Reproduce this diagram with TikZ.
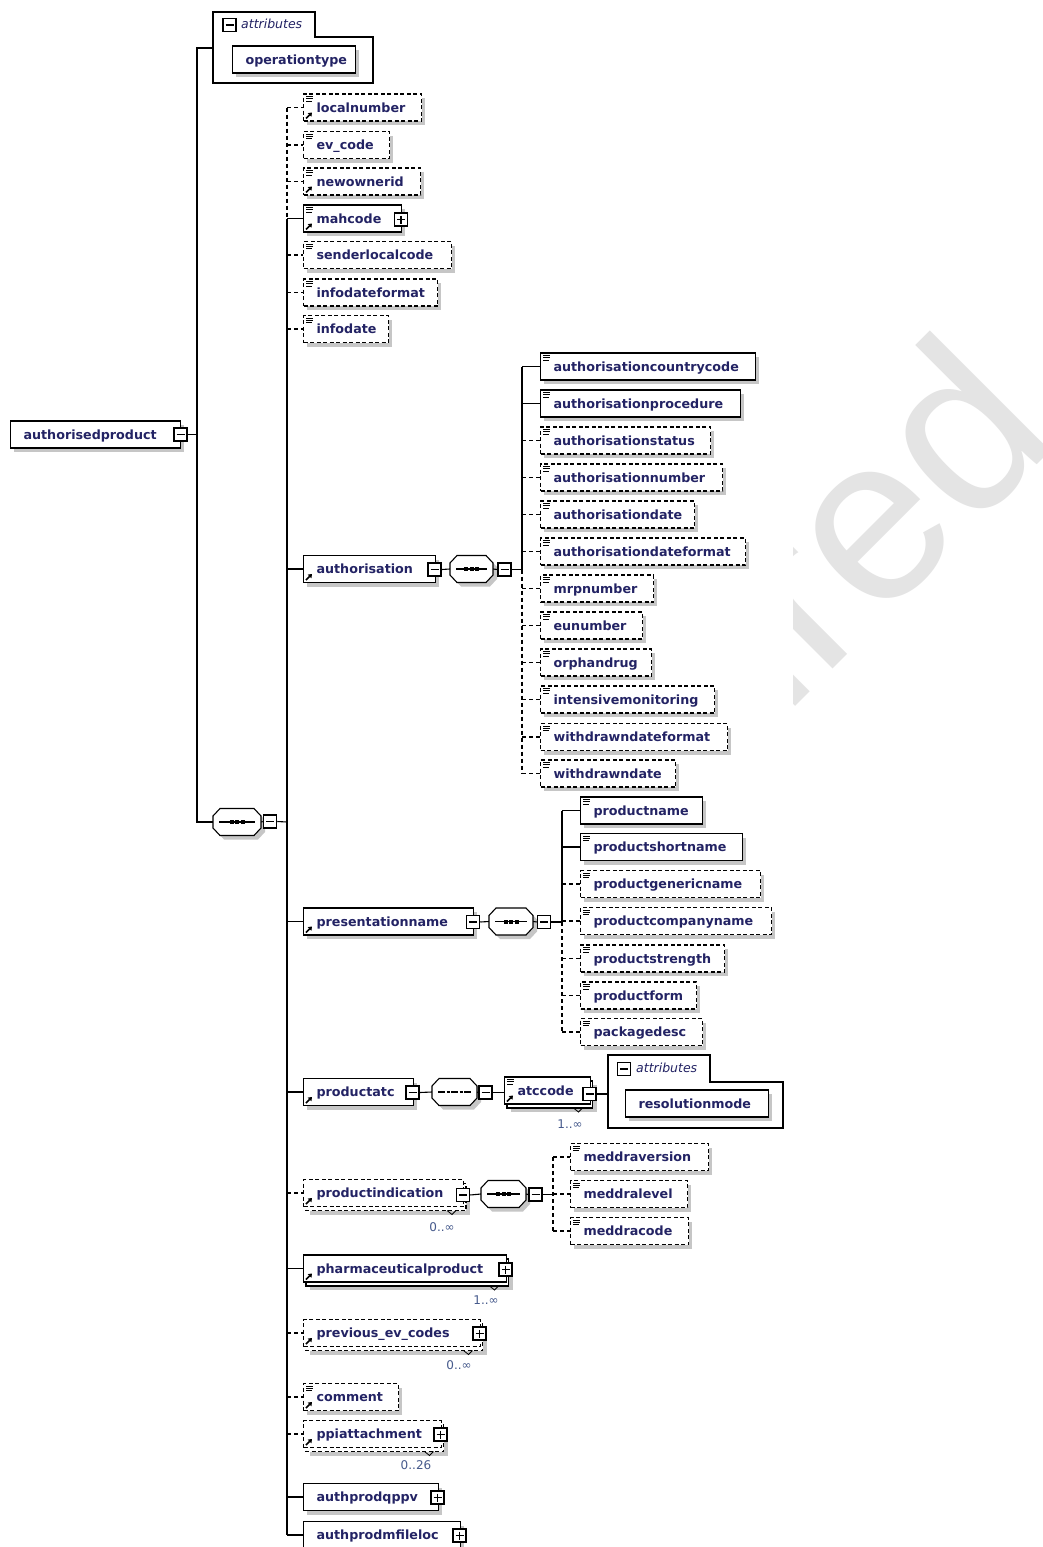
\documentclass[tikz,border=0pt]{standalone}
\usepackage{fontspec}
\setmainfont{DejaVu Sans}
\newfontfamily\wmfont{Liberation Sans}
\usetikzlibrary{arrows.meta}
\definecolor{txt}{RGB}{35,35,100}
\definecolor{shad}{RGB}{198,198,198}
\definecolor{occc}{RGB}{70,90,140}
\definecolor{wm}{RGB}{228,228,228}
\tikzset{
  elembox/.style={draw=black, line width=1.1pt, fill=white, minimum height=27pt,
    inner xsep=13pt, inner ysep=0pt, text height=11pt, text depth=2pt, align=left,
    font=\fontsize{12.7}{14}\selectfont\bfseries, text=txt, anchor=west},
  opt/.style={dash pattern=on 4pt off 2.5pt},
  req/.style={solid},
  conn/.style={line width=1.1pt, draw=black},
  dconn/.style={line width=1.1pt, draw=black, dash pattern=on 4pt off 3pt},
  btnbox/.style={draw=black, line width=1.5pt, fill=white, minimum size=13pt, inner sep=0pt},
  btnline/.style={line width=1.2pt},
  panel/.style={draw=black, line width=1.1pt},
  attrlbl/.style={font=\fontsize{12.5}{14}\selectfont\itshape, text=txt, inner sep=0pt},
  occlbl/.style={font=\fontsize{12}{14}\selectfont, text=occc, inner sep=0pt},
  seqnode/.style={minimum height=27pt, inner sep=0pt, draw=none},
}
% shadow of an element box: left, cy, right
\newcommand\shadowbox[3]{\fill[shad] ({#1+4},{#2-9.5}) rectangle ({#3+4},{#2+17.5});}
% element node: style, name, left, cy, right, text
\newcommand\elnode[6]{%
  \pgfmathsetmacro\elW{#5-#3}%
  \pgfmathsetmacro\elT{#5-#3-26}%
  \node[elembox,#1,minimum width=\elW pt,text width=\elT pt] (#2) at (#3,#4) {#6};}
\newcommand\elbox[6]{\shadowbox{#3}{#4}{#5}\elnode{#1}{#2}{#3}{#4}{#5}{#6}}
% stacked (multiple occurrence) element
\newcommand\elboxm[6]{%
  \fill[shad] ({#3+7},{#4-5.5}) rectangle ({#5+7},{#4+21.5});
  \draw[line width=1.1pt,#1,fill=white] ({#3+3},{#4-9.5}) rectangle ({#5+3},{#4+17.5});
  \draw[line width=0.8pt] ({#5-16},{#4+17.5}) -- ({#5-11},{#4+21.5}) -- ({#5-7},{#4+17.5});
  \elnode{#1}{#2}{#3}{#4}{#5}{#6}}
% icons: left, cy
\newcommand\eqicon[2]{\draw[line width=1pt] ({#1+3},{#2-11}) -- ({#1+9.5},{#2-11})
  ({#1+3},{#2-8.7}) -- ({#1+9.5},{#2-8.7}) ({#1+3},{#2-6.4}) -- ({#1+8.5},{#2-6.4});}
\newcommand\reficon[2]{\draw[line width=1.7pt,-{Triangle[length=3.5pt,width=5pt]}]
  ({#1+3},{#2+11}) -- ({#1+9},{#2+5});}
% buttons: name, x, cy
\newcommand\mbtn[3]{\node[btnbox] (#1) at (#2,#3) {};
  \draw[btnline] ({#2-4},#3) -- ({#2+4},#3);}
\newcommand\pbtn[3]{\node[btnbox] (#1) at (#2,#3) {};
  \draw[btnline] ({#2-4},#3) -- ({#2+4},#3) (#2,{#3-4}) -- (#2,{#3+4});}
% compositor outline: left, cy, right
\newcommand\octo[3]{%
  \fill[shad] ({#1+4},{#2-2}) -- ({#1+11},{#2-9.5}) -- ({#3-3},{#2-9.5}) -- ({#3+4},{#2-2})
    -- ({#3+4},{#2+10}) -- ({#3-3},{#2+17.5}) -- ({#1+11},{#2+17.5}) -- ({#1+4},{#2+10}) -- cycle;
  \draw[line width=1.1pt, fill=white] (#1,{#2-6}) -- ({#1+7},{#2-13.5}) -- ({#3-7},{#2-13.5})
    -- (#3,{#2-6}) -- (#3,{#2+6}) -- ({#3-7},{#2+13.5}) -- ({#1+7},{#2+13.5}) -- (#1,{#2+6}) -- cycle;}
% sequence compositor: name, left, cy, right
\newcommand\seqbox[4]{%
  \octo{#2}{#3}{#4}%
  \pgfmathsetmacro\sqW{#4-#2}\pgfmathsetmacro\sqC{(#2+#4)/2}%
  \node[seqnode, minimum width=\sqW pt] (#1) at (\sqC,#3) {};
  \draw[line width=1.1pt] ({#2+6},#3) -- ({#4-6},#3);
  \fill ({\sqC-7.5},{#3-2}) rectangle ++(4,4);
  \fill ({\sqC-2},{#3-2}) rectangle ++(4,4);
  \fill ({\sqC+3.5},{#3-2}) rectangle ++(4,4);}
% compositor with broken line
\newcommand\seqboxb[4]{%
  \octo{#2}{#3}{#4}%
  \pgfmathsetmacro\sqW{#4-#2}\pgfmathsetmacro\sqC{(#2+#4)/2}%
  \node[seqnode, minimum width=\sqW pt] (#1) at (\sqC,#3) {};
  \draw[line width=1.1pt, dash pattern=on 7pt off 1.5pt on 3pt off 1.5pt] ({#2+6},#3) -- ({#4-6},#3);}

\begin{document}
\begin{tikzpicture}[x=1pt,y=-1pt]
\useasboundingbox (0,0) rectangle (1043,1547);
\fill[white] (0,0) rectangle (1043,1547);
% watermark
\begin{scope}
  \clip (793,0) rectangle (1043,1547);
  \node[rotate=45, anchor=base east, inner sep=0pt, text=wm,
        font=\wmfont\fontsize{235}{235}\selectfont] (wmark) at (1062,440) {Retired};
\end{scope}

% ---------- root ----------
\elbox{req}{root}{10}{434.5}{180}{authorisedproduct}
\mbtn{rootbtn}{180.5}{434.5}

% top attributes
\draw[panel, fill=white] (213,12) -- (315,12) -- (315,37) -- (373,37) -- (373,83) -- (213,83) -- cycle;
\coordinate (attrA) at (213,48);
\mbtn{attrbtn}{229.5}{25}
\node[attrlbl, anchor=west] (attrlbl) at (241,23.5) {attributes};
\elbox{req}{optype}{232}{59.5}{355}{operationtype}

% main sequence
\seqbox{seqM}{213}{822}{261}
\mbtn{seqMbtn}{270}{821.5}
\coordinate (rj) at (197,434.5);
\coordinate (msp) at (287,822);
\draw[conn] (rootbtn.east) -- (rj);
\draw[conn] (attrA) -| (rj) |- (seqM.west);
\draw[conn] (seqM.east) -- (seqMbtn.west);
\draw[conn] (seqMbtn.east) -- (msp);

% main children
\elbox{opt}{ln}{303}{107.5}{421}{localnumber}\eqicon{303}{107.5}\reficon{303}{107.5}
\elbox{opt}{evc}{303}{145}{389}{ev\_code}\eqicon{303}{145}
\elbox{opt}{noi}{303}{181.5}{420}{newownerid}\eqicon{303}{181.5}\reficon{303}{181.5}
\elbox{req}{mah}{303}{218.5}{401}{mahcode}\eqicon{303}{218.5}\reficon{303}{218.5}
\pbtn{mahbtn}{401}{219.5}
\elbox{opt}{slc}{303}{255}{451}{senderlocalcode}\eqicon{303}{255}
\elbox{opt}{idf}{303}{292.5}{437}{infodateformat}\eqicon{303}{292.5}
\elbox{opt}{idt}{303}{329}{388}{infodate}\eqicon{303}{329}

\elbox{req}{auth}{303}{569}{434.5}{authorisation}\reficon{303}{569}
\mbtn{authbtn}{434.5}{569.5}
\elbox{req}{pres}{303}{921.5}{473}{presentationname}\reficon{303}{921.5}
\mbtn{presbtn}{473}{922}
\elbox{req}{patc}{303}{1092}{412.5}{productatc}\reficon{303}{1092}
\mbtn{patcbtn}{412.5}{1092.5}
\elboxm{opt}{pind}{303}{1193}{463}{productindication}\reficon{303}{1193}
\mbtn{pindbtn}{463}{1195}
\node[occlbl] (pindocc) at (442,1227) {0..∞};
\elboxm{req}{pharm}{303}{1268.5}{505.5}{pharmaceuticalproduct}\reficon{303}{1268.5}
\pbtn{pharmbtn}{505.5}{1269.5}
\node[occlbl] (pharmocc) at (486,1300) {1..∞};
\elboxm{opt}{prev}{303}{1333}{479.5}{previous\_ev\_codes}\reficon{303}{1333}
\pbtn{prevbtn}{479.5}{1333.5}
\node[occlbl] (prevocc) at (459,1365) {0..∞};
\elbox{opt}{comm}{303}{1397}{398}{comment}\eqicon{303}{1397}\reficon{303}{1397}
\elboxm{opt}{ppia}{303}{1434}{440.5}{ppiattachment}\reficon{303}{1434}
\pbtn{ppiabtn}{440.5}{1434.5}
\node[occlbl] (ppiaocc) at (416,1465) {0..26};
\elbox{req}{qppv}{303}{1497}{437.5}{authprodqppv}
\pbtn{qppvbtn}{437.5}{1497.5}
\elbox{req}{mfl}{303}{1535}{459.5}{authprodmfileloc}
\pbtn{mflbtn}{459.5}{1535.5}

% main spine and stubs
\draw[dconn] (ln.west -| msp) -- (mah.west -| msp);
\draw[conn] (mah.west -| msp) -- (mfl.west -| msp);
\foreach \n in {ln,evc,noi,slc,idf,idt,pind,prev,comm,ppia}
  \draw[dconn] (\n.west -| msp) -- (\n.west);
\foreach \n in {mah,auth,pres,patc,pharm,qppv,mfl}
  \draw[conn] (\n.west -| msp) -- (\n.west);

% ---------- authorisation ----------
\seqbox{seqA}{450}{569}{493}
\mbtn{seqAbtn}{504.5}{569.5}
\coordinate (asp) at (522,569.5);
\draw[conn] (authbtn.east) -- (seqA.west);
\draw[conn] (seqA.east) -- (seqAbtn.west);
\draw[conn] (seqAbtn.east) -- (asp);
\elbox{req}{acc}{540}{366.5}{755}{authorisationcountrycode}\eqicon{540}{366.5}
\elbox{req}{aproc}{540}{403.5}{740}{authorisationprocedure}\eqicon{540}{403.5}
\elbox{opt}{astat}{540}{440.5}{710}{authorisationstatus}\eqicon{540}{440.5}
\elbox{opt}{anum}{540}{477.5}{722}{authorisationnumber}\eqicon{540}{477.5}
\elbox{opt}{adate}{540}{514.5}{694}{authorisationdate}\eqicon{540}{514.5}
\elbox{opt}{adf}{540}{551.5}{745}{authorisationdateformat}\eqicon{540}{551.5}
\elbox{opt}{mrp}{540}{588.5}{653}{mrpnumber}\eqicon{540}{588.5}
\elbox{opt}{eun}{540}{625.5}{642}{eunumber}\eqicon{540}{625.5}
\elbox{opt}{orph}{540}{662.5}{651}{orphandrug}\eqicon{540}{662.5}
\elbox{opt}{intm}{540}{699.5}{714}{intensivemonitoring}\eqicon{540}{699.5}
\elbox{opt}{wdf}{540}{737}{727}{withdrawndateformat}\eqicon{540}{737}
\elbox{opt}{wd}{540}{773.5}{675}{withdrawndate}\eqicon{540}{773.5}
\draw[conn] (acc.west -| asp) -- (asp);
\draw[dconn] (asp) -- (wd.west -| asp);
\foreach \n in {acc,aproc}
  \draw[conn] (\n.west -| asp) -- (\n.west);
\foreach \n in {astat,anum,adate,adf,mrp,eun,orph,intm,wdf,wd}
  \draw[dconn] (\n.west -| asp) -- (\n.west);

% ---------- presentationname ----------
\seqbox{seqP}{489}{921.5}{533}
\mbtn{seqPbtn}{544}{922}
\coordinate (psp) at (562,922);
\draw[conn] (presbtn.east) -- (seqP.west);
\draw[conn] (seqP.east) -- (seqPbtn.west);
\draw[conn] (seqPbtn.east) -- (psp);
\elbox{req}{pname}{580}{810.5}{702}{productname}\eqicon{580}{810.5}
\elbox{req}{pshort}{580}{847}{742}{productshortname}\eqicon{580}{847}
\elbox{opt}{pgen}{580}{884}{760}{productgenericname}\eqicon{580}{884}
\elbox{opt}{pcomp}{580}{921}{771}{productcompanyname}\eqicon{580}{921}
\elbox{opt}{pstr}{580}{958.5}{724}{productstrength}\eqicon{580}{958.5}
\elbox{opt}{pform}{580}{995.5}{696}{productform}\eqicon{580}{995.5}
\elbox{opt}{pack}{580}{1032}{702}{packagedesc}\eqicon{580}{1032}
\draw[conn] (pname.west -| psp) -- (psp);
\draw[dconn] (psp) -- (pack.west -| psp);
\foreach \n in {pname,pshort}
  \draw[conn] (\n.west -| psp) -- (\n.west);
\foreach \n in {pgen,pcomp,pstr,pform,pack}
  \draw[dconn] (\n.west -| psp) -- (\n.west);

% ---------- productatc ----------
\seqboxb{seqT}{432}{1092}{477}
\mbtn{seqTbtn}{485.5}{1092.5}
\draw[conn] (patcbtn.east) -- (seqT.west);
\draw[conn] (seqT.east) -- (seqTbtn.west);
\elboxm{req}{atc}{504}{1090.5}{589.5}{atccode}\eqicon{504}{1090.5}\reficon{504}{1090.5}
\mbtn{atcbtn}{589.5}{1094}
\node[occlbl] (atcocc) at (570,1124) {1..∞};
\draw[conn] (seqTbtn.east) -- (seqTbtn.east -| atc.west);
\draw[panel, fill=white] (608,1055) -- (710,1055) -- (710,1082) -- (783,1082) -- (783,1128) -- (608,1128) -- cycle;
\coordinate (attrB) at (608,1094);
\draw[conn] (atcbtn.east) -- (attrB);
\mbtn{attrBbtn}{624}{1069}
\node[attrlbl, anchor=west] (attrBlbl) at (636,1067.5) {attributes};
\elbox{req}{resm}{625}{1103.5}{768}{resolutionmode}

% ---------- productindication ----------
\seqbox{seqI}{481}{1194}{526}
\mbtn{seqIbtn}{535.5}{1194.5}
\coordinate (isp) at (553,1194.5);
\draw[conn] (pindbtn.east) -- (seqI.west);
\draw[conn] (seqI.east) -- (seqIbtn.west);
\draw[conn] (seqIbtn.east) -- (isp);
\elbox{opt}{mver}{570}{1157}{708}{meddraversion}\eqicon{570}{1157}
\elbox{opt}{mlev}{570}{1194}{687}{meddralevel}\eqicon{570}{1194}
\elbox{opt}{mcode}{570}{1231}{688}{meddracode}\eqicon{570}{1231}
\draw[dconn] (mver.west -| isp) -- (mcode.west -| isp);
\foreach \n in {mver,mlev,mcode}
  \draw[dconn] (\n.west -| isp) -- (\n.west);
\end{tikzpicture}
\end{document}
